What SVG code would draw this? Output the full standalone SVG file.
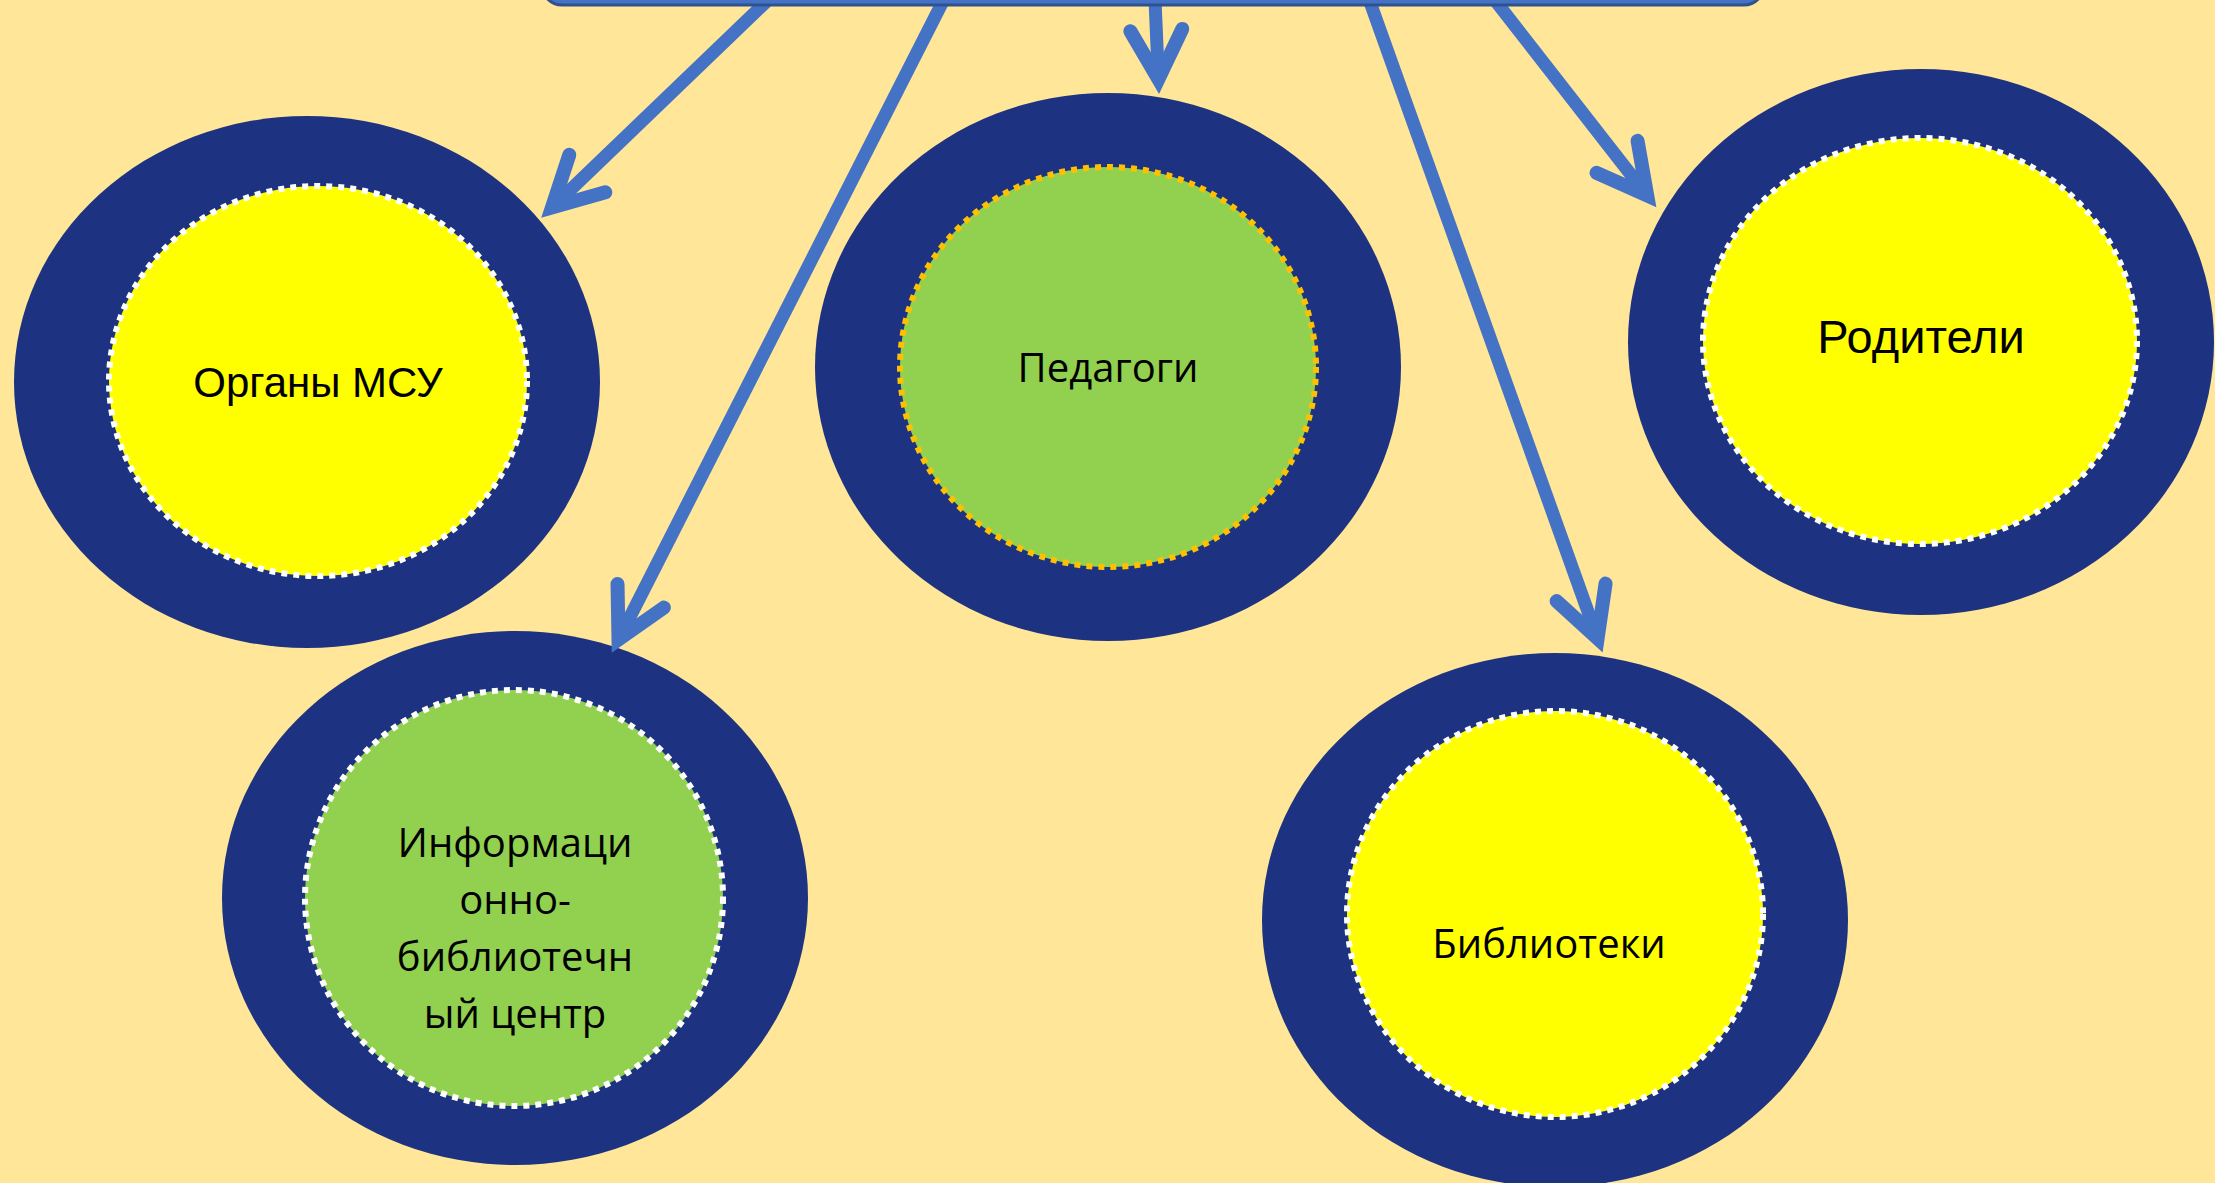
<svg xmlns="http://www.w3.org/2000/svg" width="2215" height="1183" viewBox="0 0 2215 1183">
<defs>
<style>
.outer{fill:#1D3381;}
.inner{stroke-width:6;stroke-dasharray:6 6;}
.yel{fill:#FFFF00;stroke:#FFFFFF;}
.grn{fill:#92D050;stroke:#FFFFFF;}
.grn-o{fill:#92D050;stroke:#FFC000;}
.arial{font-family:"Liberation Sans",Arial,sans-serif;fill:#000;text-anchor:middle;}
.calib{font-family:"Open Sans","Noto Sans",sans-serif;fill:#000;text-anchor:middle;font-size:40px;}
.conn{fill:none;stroke:#4472C4;stroke-width:13;}
</style>
<marker id="ah" markerUnits="userSpaceOnUse" orient="auto" viewBox="-80 -50 120 100" markerWidth="120" markerHeight="100" refX="0" refY="0" overflow="visible">
<path d="M -49,-26 L 0,0 L -49,26" fill="none" stroke="#4472C4" stroke-width="14" stroke-linecap="round" stroke-linejoin="miter" stroke-miterlimit="10"/>
</marker>
</defs>
<rect x="0" y="0" width="2215" height="1183" fill="#FFE699"/>

<g id="node-organy">
<ellipse class="outer" cx="307" cy="382" rx="293" ry="266"/>
<ellipse class="inner yel" cx="318" cy="381" rx="209" ry="195"/>
<text class="arial" x="318" y="397" font-size="42">Органы МСУ</text>
</g>

<g id="node-pedagogi">
<ellipse class="outer" cx="1108" cy="367" rx="293" ry="274"/>
<ellipse class="inner grn-o" cx="1108" cy="367" rx="208" ry="200"/>
<text class="calib" x="1108" y="382">Педагоги</text>
</g>

<g id="node-roditeli">
<ellipse class="outer" cx="1921" cy="342" rx="293" ry="273"/>
<ellipse class="inner yel" cx="1920" cy="341" rx="217" ry="203"/>
<text class="arial" x="1921" y="353" font-size="47">Родители</text>
</g>

<g id="node-ibc">
<ellipse class="outer" cx="515" cy="898" rx="293" ry="267"/>
<ellipse class="inner grn" cx="514" cy="898" rx="209" ry="208"/>
<text class="calib" x="515" y="857">Информаци</text>
<text class="calib" x="515" y="914">онно-</text>
<text class="calib" x="515" y="971">библиотечн</text>
<text class="calib" x="515" y="1028">ый центр</text>
</g>

<g id="node-biblioteki">
<ellipse class="outer" cx="1555" cy="920" rx="293" ry="267"/>
<ellipse class="inner yel" cx="1555" cy="914" rx="208" ry="203"/>
<text class="calib" x="1549" y="958">Библиотеки</text>
</g>

<g id="connectors">
<line class="conn" x1="768" y1="0" x2="552" y2="207.5" marker-end="url(#ah)"/>
<line class="conn" x1="943.6" y1="0" x2="618.5" y2="639.5" marker-end="url(#ah)"/>
<line class="conn" x1="1155" y1="0" x2="1158.4" y2="79" marker-end="url(#ah)"/>
<line class="conn" x1="1369.3" y1="0" x2="1597.6" y2="638.5" marker-end="url(#ah)"/>
<line class="conn" x1="1494.8" y1="0" x2="1647.2" y2="195.5" marker-end="url(#ah)"/>
</g>

<g id="top-box">
<rect x="542" y="-60" width="1222" height="65" rx="20" ry="20" fill="#4472C4" stroke="#2F528F" stroke-width="3"/>
</g>
</svg>
